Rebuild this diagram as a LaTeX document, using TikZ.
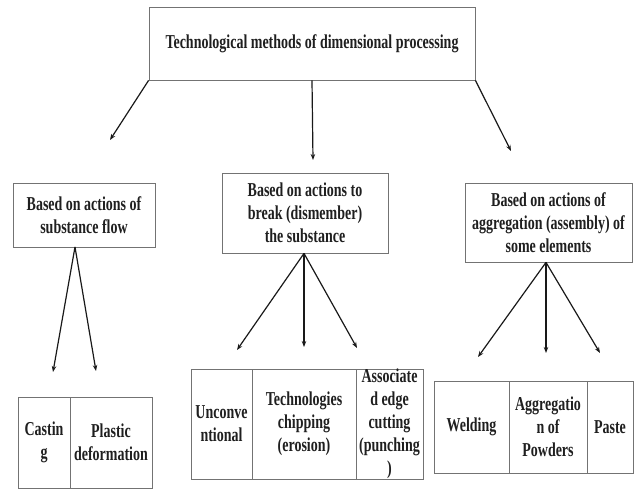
\documentclass[tikz,border=0pt]{standalone}
\usepackage{fontspec}
\setmainfont{Liberation Serif}[FakeStretch=0.71]
\usetikzlibrary{arrows.meta}
\begin{document}
\begin{tikzpicture}[x=1pt,y=-1pt,
  box/.style={draw=black!55, line width=0.8pt, align=center, text=black!88,
    font=\fontsize{19.7}{23}\selectfont\bfseries, inner sep=0pt},
  arr/.style={-{Stealth[length=6pt,width=4.5pt]}, line width=1.2pt, black!90}]
\useasboundingbox (0,0) rectangle (635,489);
% top
\node[box, minimum width=326pt, minimum height=73pt] (top) at (312,43.5) {Technological methods of dimensional processing};
% level 1
\node[box, minimum width=142pt, minimum height=64pt] (l1) at (84,215) {Based on actions of\\substance flow};
\node[box, minimum width=166pt, minimum height=80pt] (m1) at (305,213) {Based on actions to\\break (dismember)\\the substance};
\node[box, minimum width=167pt, minimum height=79pt] (r1) at (548.5,222.5) {Based on actions of\\aggregation (assembly) of\\some elements};
% bottom left
\node[box, minimum width=52pt, minimum height=91pt] (bl1) at (44,442.5) {Castin\\g};
\node[box, minimum width=82pt, minimum height=91pt] (bl2) at (111,442.5) {Plastic\\deformation};
% bottom middle
\node[box, minimum width=61pt, minimum height=110pt] (bm1) at (221.5,424) {Unconve\\ntional};
\node[box, minimum width=104pt, minimum height=110pt] (bm2) at (304,424) {Technologies\\chipping\\(erosion)};
\node[box, minimum width=67pt, minimum height=110pt] (bm3) at (389.5,424) {Associate\\d edge\\cutting\\(punching\\)};
% bottom right
\node[box, minimum width=75pt, minimum height=92pt] (br1) at (471.5,427) {Welding};
\node[box, minimum width=78pt, minimum height=92pt] (br2) at (548,427) {Aggregatio\\n of\\Powders};
\node[box, minimum width=46pt, minimum height=92pt] (br3) at (610,427) {Paste};
% arrow ends
\coordinate (t1) at (110,140);
\coordinate (t2) at (313,160);
\coordinate (t3) at (511,151);
\coordinate (l1a) at (75,247);
\coordinate (la1) at (53,372);
\coordinate (la2) at (96,371);
\coordinate (ma1) at (237,350);
\coordinate (ma2) at (304,347);
\coordinate (ma3) at (357,348);
\coordinate (ra1) at (478,357);
\coordinate (ra2) at (546,353);
\coordinate (ra3) at (600,353);
% arrows
\draw[arr] (top.south west) -- (t1);
\draw[arr] (top.south) -- (t2);
\draw[arr] (top.south east) -- (t3);
\draw[arr] (l1a) -- (la1);
\draw[arr] (l1a) -- (la2);
\draw[arr] ([xshift=-1pt]m1.south) -- (ma1);
\draw[arr] ([xshift=-1pt]m1.south) -- (ma2);
\draw[arr] ([xshift=-1pt]m1.south) -- (ma3);
\draw[arr] ([xshift=-2.5pt]r1.south) -- (ra1);
\draw[arr] ([xshift=-2.5pt]r1.south) -- (ra2);
\draw[arr] ([xshift=-2.5pt]r1.south) -- (ra3);
\end{tikzpicture}
\end{document}
